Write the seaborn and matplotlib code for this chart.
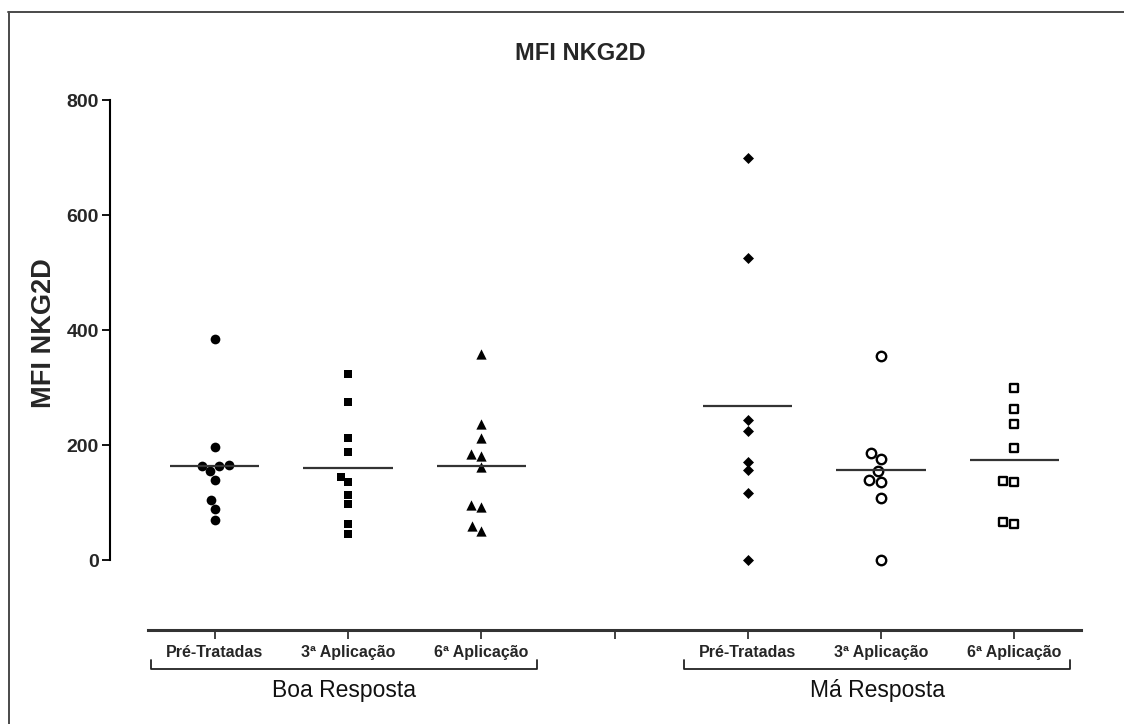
import numpy as np
import pandas as pd
import matplotlib
matplotlib.use("Agg")
import matplotlib.pyplot as plt
import matplotlib.transforms as mtransforms
from matplotlib.lines import Line2D
import seaborn as sns

# ---------------- data ----------------
title = "MFI NKG2D"
ylabel = "MFI NKG2D"
groups = ["Boa Resposta", "Má Resposta"]
timepoints = ["Pré-Tratadas", "3ª Aplicação", "6ª Aplicação"]
yticks = [0, 200, 400, 600, 800]

boa_pre = [384, 197, 165, 163, 164, 154, 139, 104, 88, 70]
boa_3a = [324, 275, 212, 187, 145, 136, 113, 97, 62, 45]
boa_6a = [358, 237, 213, 184, 181, 162, 96, 93, 59, 51]
ma_pre = [700, 525, 244, 224, 171, 157, 117, 0]
ma_3a = [355, 186, 175, 155, 139, 135, 108, 0]
ma_6a = [300, 262, 237, 194, 138, 135, 66, 63]

series = [
    (groups[0], timepoints[0], boa_pre),
    (groups[0], timepoints[1], boa_3a),
    (groups[0], timepoints[2], boa_6a),
    (groups[1], timepoints[0], ma_pre),
    (groups[1], timepoints[1], ma_3a),
    (groups[1], timepoints[2], ma_6a),
]
rows = []
for g, t, vals in series:
    for v in vals:
        rows.append({"group": g, "time": t, "value": v})
df = pd.DataFrame(rows)
df["key"] = df["group"] + "|" + df["time"]

GAP = "gap"
order = [f"{groups[0]}|{t}" for t in timepoints] + [GAP] + [f"{groups[1]}|{t}" for t in timepoints]

styles = {
    order[0]: dict(marker="o", color="black", edgecolor="black", linewidth=0, size=7.0),
    order[1]: dict(marker="s", color="black", edgecolor="black", linewidth=0, size=6.1),
    order[2]: dict(marker="^", color="black", edgecolor="black", linewidth=0, size=7.4),
    order[4]: dict(marker="D", color="black", edgecolor="black", linewidth=0, size=5.6),
    order[5]: dict(marker="o", color="white", edgecolor="black", linewidth=1.7, size=6.8),
    order[6]: dict(marker="s", color="white", edgecolor="black", linewidth=1.7, size=6.3),
}

# ---------------- figure ----------------
sns.set_style("ticks")
plt.rcParams["font.family"] = ["Liberation Sans", "DejaVu Sans"]

W, H = 1124, 724
fig = plt.figure(figsize=(W / 100, H / 100), dpi=100)
ax_left, ax_right, ax_top, ax_bot = 110, 1081, 100, 630
ax = fig.add_axes([ax_left / W, 1 - ax_bot / H, (ax_right - ax_left) / W, (ax_bot - ax_top) / H])

for key in order:
    if key == GAP:
        continue
    sub = df[df["key"] == key]
    sns.swarmplot(data=sub, x="key", y="value", order=order, ax=ax, zorder=2, **styles[key])

for i, key in enumerate(order):
    if key == GAP:
        continue
    m = df.loc[df["key"] == key, "value"].mean()
    ax.hlines(m, i - 0.335, i + 0.335, color="#333333", lw=1.6, zorder=3)

ax.set_xlim(-0.786, 6.5)
ax.set_ylim(-121.7, 800)
ax.set_xlabel("")
ax.set_ylabel("")

ax.set_xticks(range(len(order)))
ax.set_xticklabels(timepoints + [""] + timepoints)
ax.set_yticks(yticks)
ax.set_yticklabels([str(v) for v in yticks])

for s in ["top", "right"]:
    ax.spines[s].set_visible(False)
ax.spines["left"].set_bounds(0, 800)
ax.spines["left"].set_linewidth(1.5)
ax.spines["left"].set_color("black")
ax.spines["bottom"].set_bounds(-0.5, 6.5)
ax.spines["bottom"].set_linewidth(2.2)
ax.spines["bottom"].set_color("#333333")

ax.tick_params(axis="y", length=6, width=1.3, pad=2, labelsize=14, color="black")
ax.tick_params(axis="x", length=6.5, width=1.3, pad=4, labelsize=11.5, color="#333333")
for lab in ax.get_yticklabels() + ax.get_xticklabels():
    lab.set_fontweight("bold")

# group brackets and labels
trans = mtransforms.blended_transform_factory(ax.transData, ax.transAxes)
axh = ax_bot - ax_top
for gi, g in enumerate(groups):
    s = 0 if gi == 0 else 4
    x0, x1 = s - 0.48, s + 2.42
    yb, yt = -39 / axh, -30 / axh
    ax.plot([x0, x0, x1, x1], [yt, yb, yb, yt], transform=trans, color="#222222",
            lw=1.3, clip_on=False)
    ax.text(s + 0.97, -61 / axh, g, transform=trans, ha="center", va="center",
            fontsize=16.5, color="#111111")

# title and y label
fig.text(580 / W, 1 - 60 / H, title, ha="center", va="baseline", fontsize=17,
         fontweight="bold")
fig.text(44 / W, 1 - 333 / H, ylabel, ha="center", va="center", rotation=90,
         fontsize=19.5, fontweight="bold")

# outer frame (top and left edges visible)
fig.add_artist(Line2D([8 / W, 1], [1 - 11.5 / H] * 2, transform=fig.transFigure,
                      color="#4a4a4a", lw=1.4))
fig.add_artist(Line2D([8.5 / W] * 2, [0, 1 - 11.5 / H], transform=fig.transFigure,
                      color="#4a4a4a", lw=1.4))

fig.savefig("out.png", dpi=100)
